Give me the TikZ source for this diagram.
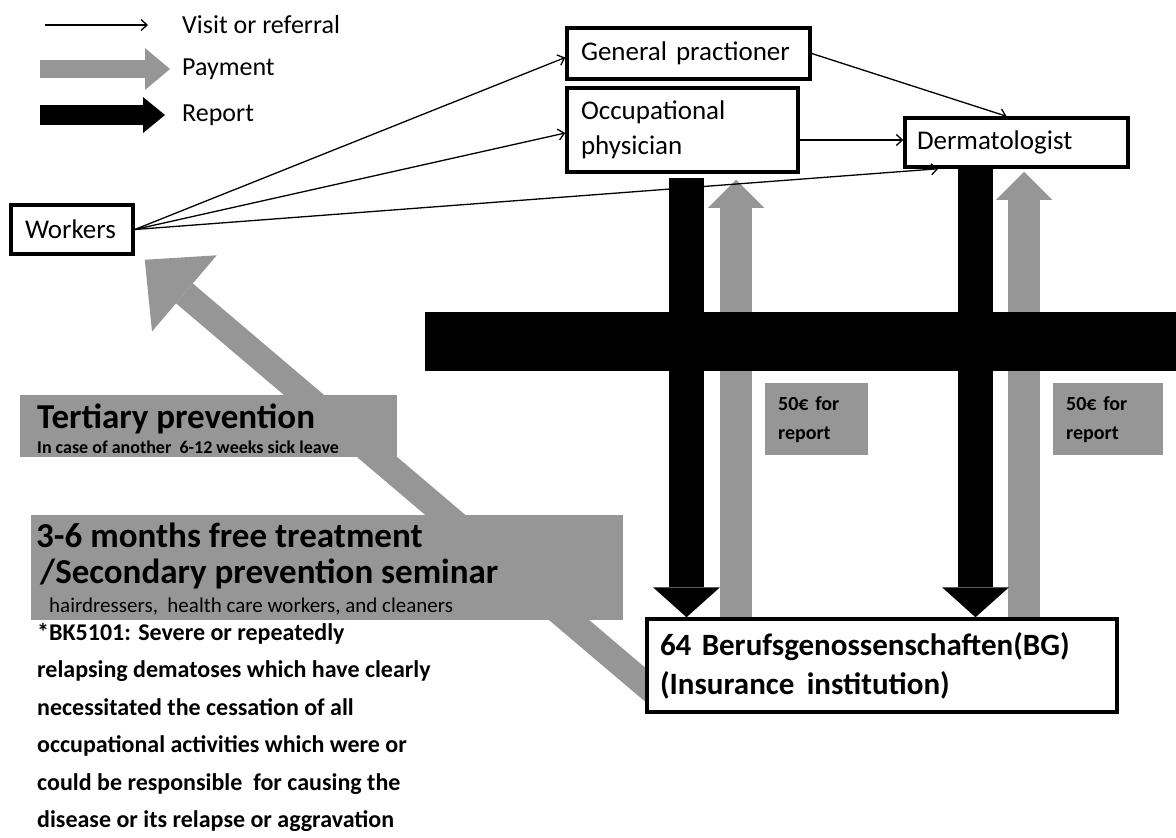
\documentclass[tikz,border=0pt]{standalone}
\usepackage{fontspec}
\setmainfont{Carlito}
\usetikzlibrary{arrows.meta,calc}
\pgfdeclarelayer{background}
\pgfsetlayers{background,main}
\definecolor{paygray}{RGB}{150,150,150}
\newcommand\setfs[2]{\fontsize{#1pt}{#2pt}\selectfont}

\begin{document}
\begin{tikzpicture}[x=1pt,y=-1pt,
  nodebox/.style={draw=black, line width=3.5pt, fill=white, align=left, inner xsep=14pt, inner ysep=0pt, font=\setfs{27}{35}},
  graybox/.style={fill=paygray, draw=none, inner sep=0pt, anchor=north west},
  visit/.style={line width=1.3pt, -{Straight Barb[length=6pt,width=11pt,line width=1.3pt]}},
  report/.style={draw=black, line width=35pt, -{Triangle[width=67pt,length=30pt,line width=0pt]}},
  payment/.style={draw=paygray, line width=32pt, -{Triangle[width=56pt,length=28pt,line width=0pt]}},
  plain/.style={inner sep=0pt, anchor=base west},
]
\useasboundingbox (0,0) rectangle (1176,838);

% ---------- nodes ----------
\node[nodebox, minimum width=243pt, minimum height=51pt, text width=215pt] (gp) at (688.5,53.5) {General practioner};
\node[nodebox, minimum width=231pt, minimum height=84pt, text width=203pt] (op) at (682.5,130) {Occupational\\physician};
\node[nodebox, inner xsep=12pt, minimum width=223pt, minimum height=49pt, text width=199pt] (derm) at (1016.5,142.5) {Dermatologist};
\node[nodebox, minimum width=122pt, minimum height=49pt, text width=94pt] (workers) at (72,229.5) {Workers};
\node[nodebox, inner xsep=13pt, minimum width=470pt, minimum height=93pt, text width=444pt, font=\bfseries\setfs{31}{39}] (bg) at (882,665.5) {64 Berufsgenossenschaften(BG)\\(Insurance\hspace{0.4em}institution)};

% gray text boxes
\node[graybox, minimum width=377pt, minimum height=62pt] (tert) at (20,395) {};
\node[plain, font=\bfseries\setfs{35}{35}] (tertT) at (37,428) {Tertiary prevention};
\node[plain, font=\bfseries\setfs{18}{18}] (tertS) at (37,453) {In case of another\ \ 6-12 weeks sick leave};

\node[graybox, minimum width=592pt, minimum height=105pt] (sec) at (31,515) {};
\node[plain, font=\bfseries\setfs{35}{35}] (secA) at (36,547) {3-6 months free treatment};
\node[plain, font=\bfseries\setfs{35}{35}] (secB) at (40,583) {/Secondary prevention seminar};
\node[plain, font=\setfs{21}{21}] (secC) at (49,612) {hairdressers,\ \ health care workers, and cleaners};

\node[graybox, inner xsep=13pt, minimum width=103pt, minimum height=72pt, text width=77pt, align=left, font=\bfseries\setfs{20}{29}] (fee1) at (765,383) {50€ for\\report};
\node[graybox, inner xsep=13pt, minimum width=110pt, minimum height=72pt, text width=84pt, align=left, font=\bfseries\setfs{20}{29}] (fee2) at (1053,383) {50€ for\\report};

% footnote text
\node[anchor=north west, inner sep=0pt, align=left, font=\bfseries\setfs{24}{37.5}] (bk) at (37,623) {*BK5101: Severe or repeatedly\\relapsing dematoses which have clearly\\necessitated the cessation of all\\occupational activities which were or\\could be responsible\ \ for causing the\\disease or its relapse or aggravation};

% ---------- block arrows (background) ----------
\coordinate (c1) at (686.5,0);
\coordinate (c2) at (736,0);
\coordinate (c3) at (975.5,0);
\coordinate (c4) at (1024,0);
\begin{pgfonlayer}{background}
  \draw[draw=paygray, line width=26pt, -{Triangle[width=100pt,length=52pt,line width=0pt]}]
    ([shift={(8,26)}]bg.west) -- ([shift={(10,4)}]workers.south east);
  \draw[payment, shorten >=6pt] (bg.north -| c2) -- (op.south -| c2);
  \draw[payment, shorten >=3pt] (bg.north -| c4) -- (derm.south -| c4);
  \draw[report, shorten <=4pt] (op.south -| c1) -- (bg.north -| c1);
  \draw[report] (derm.south -| c3) -- (bg.north -| c3);
  \node[fill=black, inner sep=0pt, minimum width=751pt, minimum height=59pt, anchor=north west] (band) at (425,312) {};
\end{pgfonlayer}

% ---------- thin connectors ----------
\draw[visit] (workers.east) -- ([yshift=-4pt]gp.west);
\draw[visit] (workers.east) -- ([yshift=-3pt]op.west);
\draw[visit] (workers.east) -- ([xshift=35pt]derm.south west);
\draw[visit] (gp.east) -- ([xshift=-10pt]derm.north);
\coordinate (opr) at ([yshift=-10pt]op.east);
\draw[visit] (opr) -- (opr -| derm.west);

% ---------- legend ----------
\coordinate (lv1) at (45,25);  \coordinate (lv2) at (148,25);
\coordinate (lp1) at (40,69);  \coordinate (lp2) at (170,69);
\coordinate (lr1) at (40,115); \coordinate (lr2) at (165,115);
\draw[visit] (lv1) -- (lv2);
\draw[draw=paygray, line width=18pt, -{Triangle[width=42pt,length=25pt,line width=0pt]}] (lp1) -- (lp2);
\draw[draw=black, line width=20pt, -{Triangle[width=36pt,length=22pt,line width=0pt]}] (lr1) -- (lr2);
\node[anchor=west, inner sep=0pt, font=\setfs{26}{26}] (legV) at (182,25) {Visit or referral};
\node[anchor=west, inner sep=0pt, font=\setfs{26}{26}] (legP) at (182,69) {Payment};
\node[anchor=west, inner sep=0pt, font=\setfs{26}{26}] (legR) at (182,115) {Report};
\end{tikzpicture}
\end{document}
